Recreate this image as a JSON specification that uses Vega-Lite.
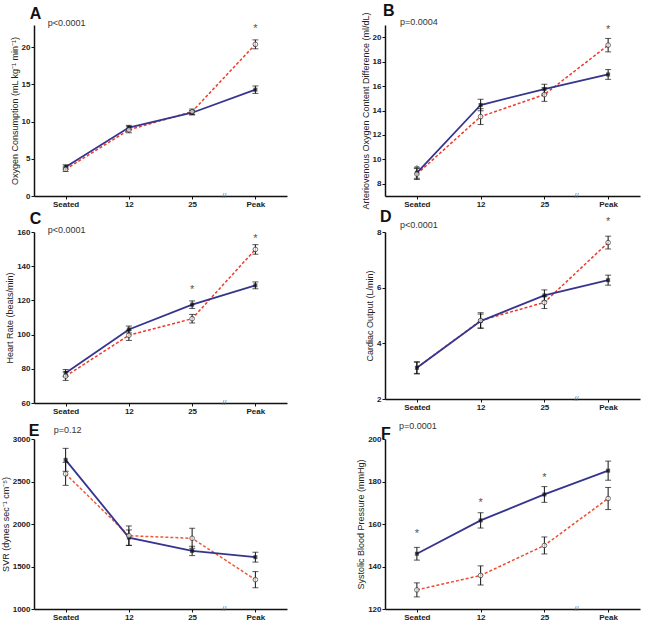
{
"$schema":"https://vega.github.io/schema/vega-lite/v6.json",
"padding":{"left":1,"top":3,"right":5,"bottom":3},
"background":"white",
"bounds":"flush",
"config":{"view":{"stroke":null},"font":"Liberation Sans",
"axis":{"grid":false,"domainColor":"#111","domainWidth":1.5,"tickColor":"#111","tickWidth":1,"tickSize":3,"labelFont":"Liberation Sans","labelFontWeight":"bold","labelFontSize":8,"labelColor":"#222","labelPadding":1,"titleFont":"Liberation Sans","titleFontSize":9,"titleFontWeight":"normal","titleColor":"#222","titlePadding":2},
"axisY":{"format":"d"},
"axisX":{"labelAngle":0,"title":null,"tickSize":3,"labelPadding":1}},
"datasets":{
"main":[
{"panel":"A","stage":"Seated","group":"B","mean":3.9,"lo":3.6,"hi":4.2},
{"panel":"A","stage":"Seated","group":"R","mean":3.6,"lo":3.3,"hi":3.9},
{"panel":"A","stage":"12","group":"B","mean":9.2,"lo":8.9,"hi":9.5},
{"panel":"A","stage":"12","group":"R","mean":8.9,"lo":8.5,"hi":9.3},
{"panel":"A","stage":"25","group":"B","mean":11.2,"lo":10.9,"hi":11.5},
{"panel":"A","stage":"25","group":"R","mean":11.35,"lo":11.0,"hi":11.7},
{"panel":"A","stage":"Peak","group":"B","mean":14.3,"lo":13.8,"hi":14.8},
{"panel":"A","stage":"Peak","group":"R","mean":20.4,"lo":19.8,"hi":21.0},
{"panel":"B","stage":"Seated","group":"B","mean":8.9,"lo":8.45,"hi":9.35},
{"panel":"B","stage":"Seated","group":"R","mean":8.8,"lo":8.35,"hi":9.25},
{"panel":"B","stage":"12","group":"B","mean":14.45,"lo":13.98,"hi":14.92},
{"panel":"B","stage":"12","group":"R","mean":13.5,"lo":12.85,"hi":14.15},
{"panel":"B","stage":"25","group":"B","mean":15.75,"lo":15.35,"hi":16.15},
{"panel":"B","stage":"25","group":"R","mean":15.3,"lo":14.75,"hi":15.85},
{"panel":"B","stage":"Peak","group":"B","mean":16.95,"lo":16.55,"hi":17.35},
{"panel":"B","stage":"Peak","group":"R","mean":19.35,"lo":18.8,"hi":19.9},
{"panel":"C","stage":"Seated","group":"B","mean":77.6,"lo":75.6,"hi":79.6},
{"panel":"C","stage":"Seated","group":"R","mean":75.7,"lo":73.2,"hi":78.2},
{"panel":"C","stage":"12","group":"B","mean":103,"lo":101,"hi":105},
{"panel":"C","stage":"12","group":"R","mean":99.6,"lo":96.6,"hi":102.6},
{"panel":"C","stage":"25","group":"B","mean":117.5,"lo":115.3,"hi":119.7},
{"panel":"C","stage":"25","group":"R","mean":109.3,"lo":106.8,"hi":111.8},
{"panel":"C","stage":"Peak","group":"B","mean":128.8,"lo":126.8,"hi":130.8},
{"panel":"C","stage":"Peak","group":"R","mean":149.8,"lo":147,"hi":152.6},
{"panel":"D","stage":"Seated","group":"B","mean":3.12,"lo":2.9,"hi":3.34},
{"panel":"D","stage":"Seated","group":"R","mean":3.12,"lo":2.92,"hi":3.32},
{"panel":"D","stage":"12","group":"B","mean":4.8,"lo":4.55,"hi":5.05},
{"panel":"D","stage":"12","group":"R","mean":4.82,"lo":4.54,"hi":5.1},
{"panel":"D","stage":"25","group":"B","mean":5.72,"lo":5.52,"hi":5.92},
{"panel":"D","stage":"25","group":"R","mean":5.47,"lo":5.25,"hi":5.69},
{"panel":"D","stage":"Peak","group":"B","mean":6.27,"lo":6.09,"hi":6.45},
{"panel":"D","stage":"Peak","group":"R","mean":7.62,"lo":7.39,"hi":7.85},
{"panel":"E","stage":"Seated","group":"B","mean":2755,"lo":2620,"hi":2890},
{"panel":"E","stage":"Seated","group":"R","mean":2590,"lo":2455,"hi":2725},
{"panel":"E","stage":"12","group":"B","mean":1840,"lo":1750,"hi":1930},
{"panel":"E","stage":"12","group":"R","mean":1862,"lo":1747,"hi":1977},
{"panel":"E","stage":"25","group":"B","mean":1683,"lo":1628,"hi":1738},
{"panel":"E","stage":"25","group":"R","mean":1832,"lo":1714,"hi":1950},
{"panel":"E","stage":"Peak","group":"B","mean":1610,"lo":1552,"hi":1668},
{"panel":"E","stage":"Peak","group":"R","mean":1345,"lo":1250,"hi":1440},
{"panel":"F","stage":"Seated","group":"B","mean":146,"lo":143,"hi":149},
{"panel":"F","stage":"Seated","group":"R","mean":129,"lo":125.7,"hi":132.3},
{"panel":"F","stage":"12","group":"B","mean":161.7,"lo":158.1,"hi":165.3},
{"panel":"F","stage":"12","group":"R","mean":135.8,"lo":131.3,"hi":140.3},
{"panel":"F","stage":"25","group":"B","mean":173.9,"lo":170.2,"hi":177.6},
{"panel":"F","stage":"25","group":"R","mean":149.9,"lo":145.9,"hi":153.9},
{"panel":"F","stage":"Peak","group":"B","mean":185.1,"lo":180.6,"hi":189.6},
{"panel":"F","stage":"Peak","group":"R","mean":172,"lo":166.8,"hi":177.2}
],
"notes":[
{"panel":"A","kind":"letter","stage":"Seated","y":23,"label":"A"},
{"panel":"A","kind":"p","stage":"Seated","y":23,"label":"p<0.0001"},
{"panel":"A","kind":"star","stage":"Peak","y":22.8,"label":"*"},
{"panel":"A","kind":"brk","stage":"25","y":0,"label":"//"},
{"panel":"B","kind":"letter","stage":"Seated","y":21,"label":"B"},
{"panel":"B","kind":"p","stage":"Seated","y":21,"label":"p=0.0004"},
{"panel":"B","kind":"star","stage":"Seated","y":9.35,"label":"*"},
{"panel":"B","kind":"star","stage":"Peak","y":20.8,"label":"*"},
{"panel":"B","kind":"brk","stage":"25","y":7,"label":"//"},
{"panel":"C","kind":"letter","stage":"Seated","y":160,"label":"C"},
{"panel":"C","kind":"p","stage":"Seated","y":160,"label":"p<0.0001"},
{"panel":"C","kind":"star","stage":"25","y":127.6,"label":"*"},
{"panel":"C","kind":"star","stage":"Peak","y":157.5,"label":"*"},
{"panel":"C","kind":"brk","stage":"25","y":60,"label":"//"},
{"panel":"D","kind":"letter","stage":"Seated","y":8,"label":"D"},
{"panel":"D","kind":"p","stage":"Seated","y":8,"label":"p<0.0001"},
{"panel":"D","kind":"star","stage":"Peak","y":8.48,"label":"*"},
{"panel":"D","kind":"brk","stage":"25","y":2,"label":"//"},
{"panel":"E","kind":"letter","stage":"Seated","y":3000,"label":"E"},
{"panel":"E","kind":"p","stage":"Seated","y":3000,"label":"p=0.12"},
{"panel":"E","kind":"brk","stage":"25","y":1000,"label":"//"},
{"panel":"F","kind":"letter","stage":"Seated","y":200,"label":"F"},
{"panel":"F","kind":"p","stage":"Seated","y":200,"label":"p=0.0001"},
{"panel":"F","kind":"star","stage":"Seated","y":156.7,"label":"*"},
{"panel":"F","kind":"star","stage":"12","y":171.2,"label":"*"},
{"panel":"F","kind":"star","stage":"25","y":183,"label":"*"},
{"panel":"F","kind":"brk","stage":"25","y":120,"label":"//"}
]},
"columns":2,
"spacing":{"row":36,"column":98},
"concat":[
{"width":253,"height":171,
"encoding":{"x":{"field":"stage","type":"ordinal","sort":["Seated","12","25","Peak"],"scale":{"type":"point","padding":0.5}},
"y":{"field":"mean","type":"quantitative","scale":{"domain":[0,23]},"axis":{"title":"Oxygen Consumption (mL kg⁻¹ min⁻¹)","values":[0,5,10,15,20]}}},
"layer":[
{"data":{"name":"main"},"transform":[{"filter":"datum.panel==='A' && datum.group==='R'"}],"mark":{"type":"line","color":"#ee3a2a","strokeDash":[3,2],"strokeWidth":1.5}},
{"data":{"name":"main"},"transform":[{"filter":"datum.panel==='A' && datum.group==='B'"}],"mark":{"type":"line","color":"#35358f","strokeWidth":1.8}},
{"data":{"name":"main"},"transform":[{"filter":"datum.panel==='A'"}],"mark":{"type":"errorbar","ticks":{"size":6},"color":"#111","thickness":1},"encoding":{"y":{"field":"lo","type":"quantitative"},"y2":{"field":"hi"}}},
{"data":{"name":"main"},"transform":[{"filter":"datum.panel==='A' && datum.group==='B'"}],"mark":{"type":"point","shape":"square","filled":true,"color":"#111","size":16}},
{"data":{"name":"main"},"transform":[{"filter":"datum.panel==='A' && datum.group==='R'"}],"mark":{"type":"point","shape":"circle","filled":true,"fill":"white","stroke":"#333","strokeWidth":1,"size":22}},
{"data":{"name":"notes"},"transform":[{"filter":"datum.panel==='A' && datum.kind==='star'"}],"mark":{"type":"text","fontSize":11,"color":"#555","baseline":"middle","dy":3},"encoding":{"y":{"field":"y","type":"quantitative"},"text":{"field":"label"}}},
{"data":{"name":"notes"},"transform":[{"filter":"datum.panel==='A' && datum.kind==='p'"}],"mark":{"type":"text","fontSize":9,"color":"#333","align":"left","baseline":"middle","dx":-18,"dy":-2},"encoding":{"y":{"field":"y","type":"quantitative"},"text":{"field":"label"}}},
{"data":{"name":"notes"},"transform":[{"filter":"datum.panel==='A' && datum.kind==='letter'"}],"mark":{"type":"text","fontSize":16,"fontWeight":"bold","color":"#111","align":"left","baseline":"alphabetic","dx":-36,"dy":-6},"encoding":{"y":{"field":"y","type":"quantitative"},"text":{"field":"label"}}},
{"data":{"name":"notes"},"transform":[{"filter":"datum.panel==='A' && datum.kind==='brk'"}],"mark":{"type":"text","fontSize":8,"color":"#777","baseline":"middle","dx":32},"encoding":{"y":{"field":"y","type":"quantitative"},"text":{"field":"label"}}}
]},
{"width":255,"height":171,
"encoding":{"x":{"field":"stage","type":"ordinal","sort":["Seated","12","25","Peak"],"scale":{"type":"point","padding":0.5}},
"y":{"field":"mean","type":"quantitative","scale":{"domain":[7,21]},"axis":{"title":"Arteriovenous Oxygen Content Difference (ml/dL)","values":[8,10,12,14,16,18,20]}}},
"layer":[
{"data":{"name":"main"},"transform":[{"filter":"datum.panel==='B' && datum.group==='R'"}],"mark":{"type":"line","color":"#ee3a2a","strokeDash":[3,2],"strokeWidth":1.5}},
{"data":{"name":"main"},"transform":[{"filter":"datum.panel==='B' && datum.group==='B'"}],"mark":{"type":"line","color":"#35358f","strokeWidth":1.8}},
{"data":{"name":"main"},"transform":[{"filter":"datum.panel==='B'"}],"mark":{"type":"errorbar","ticks":{"size":6},"color":"#111","thickness":1},"encoding":{"y":{"field":"lo","type":"quantitative"},"y2":{"field":"hi"}}},
{"data":{"name":"main"},"transform":[{"filter":"datum.panel==='B' && datum.group==='B'"}],"mark":{"type":"point","shape":"square","filled":true,"color":"#111","size":16}},
{"data":{"name":"main"},"transform":[{"filter":"datum.panel==='B' && datum.group==='R'"}],"mark":{"type":"point","shape":"circle","filled":true,"fill":"white","stroke":"#333","strokeWidth":1,"size":22}},
{"data":{"name":"notes"},"transform":[{"filter":"datum.panel==='B' && datum.kind==='star'"}],"mark":{"type":"text","fontSize":11,"color":"#555","baseline":"middle","dy":3},"encoding":{"y":{"field":"y","type":"quantitative"},"text":{"field":"label"}}},
{"data":{"name":"notes"},"transform":[{"filter":"datum.panel==='B' && datum.kind==='p'"}],"mark":{"type":"text","fontSize":9,"color":"#333","align":"left","baseline":"middle","dx":-17,"dy":-3},"encoding":{"y":{"field":"y","type":"quantitative"},"text":{"field":"label"}}},
{"data":{"name":"notes"},"transform":[{"filter":"datum.panel==='B' && datum.kind==='letter'"}],"mark":{"type":"text","fontSize":16,"fontWeight":"bold","color":"#111","align":"left","baseline":"alphabetic","dx":-34,"dy":-9},"encoding":{"y":{"field":"y","type":"quantitative"},"text":{"field":"label"}}},
{"data":{"name":"notes"},"transform":[{"filter":"datum.panel==='B' && datum.kind==='brk'"}],"mark":{"type":"text","fontSize":8,"color":"#777","baseline":"middle","dx":32},"encoding":{"y":{"field":"y","type":"quantitative"},"text":{"field":"label"}}}
]},
{"width":253,"height":171,
"encoding":{"x":{"field":"stage","type":"ordinal","sort":["Seated","12","25","Peak"],"scale":{"type":"point","padding":0.5}},
"y":{"field":"mean","type":"quantitative","scale":{"domain":[60,160]},"axis":{"title":"Heart Rate (beats/min)","values":[60,80,100,120,140,160]}}},
"layer":[
{"data":{"name":"main"},"transform":[{"filter":"datum.panel==='C' && datum.group==='R'"}],"mark":{"type":"line","color":"#ee3a2a","strokeDash":[3,2],"strokeWidth":1.5}},
{"data":{"name":"main"},"transform":[{"filter":"datum.panel==='C' && datum.group==='B'"}],"mark":{"type":"line","color":"#35358f","strokeWidth":1.8}},
{"data":{"name":"main"},"transform":[{"filter":"datum.panel==='C'"}],"mark":{"type":"errorbar","ticks":{"size":6},"color":"#111","thickness":1},"encoding":{"y":{"field":"lo","type":"quantitative"},"y2":{"field":"hi"}}},
{"data":{"name":"main"},"transform":[{"filter":"datum.panel==='C' && datum.group==='B'"}],"mark":{"type":"point","shape":"square","filled":true,"color":"#111","size":16}},
{"data":{"name":"main"},"transform":[{"filter":"datum.panel==='C' && datum.group==='R'"}],"mark":{"type":"point","shape":"circle","filled":true,"fill":"white","stroke":"#333","strokeWidth":1,"size":22}},
{"data":{"name":"notes"},"transform":[{"filter":"datum.panel==='C' && datum.kind==='star'"}],"mark":{"type":"text","fontSize":11,"color":"#555","baseline":"middle","dy":3},"encoding":{"y":{"field":"y","type":"quantitative"},"text":{"field":"label"}}},
{"data":{"name":"notes"},"transform":[{"filter":"datum.panel==='C' && datum.kind==='p'"}],"mark":{"type":"text","fontSize":9,"color":"#333","align":"left","baseline":"middle","dx":-18,"dy":-2},"encoding":{"y":{"field":"y","type":"quantitative"},"text":{"field":"label"}}},
{"data":{"name":"notes"},"transform":[{"filter":"datum.panel==='C' && datum.kind==='letter'"}],"mark":{"type":"text","fontSize":16,"fontWeight":"bold","color":"#111","align":"left","baseline":"alphabetic","dx":-36,"dy":-8},"encoding":{"y":{"field":"y","type":"quantitative"},"text":{"field":"label"}}},
{"data":{"name":"notes"},"transform":[{"filter":"datum.panel==='C' && datum.kind==='brk'"}],"mark":{"type":"text","fontSize":8,"color":"#777","baseline":"middle","dx":32},"encoding":{"y":{"field":"y","type":"quantitative"},"text":{"field":"label"}}}
]},
{"width":255,"height":167,
"encoding":{"x":{"field":"stage","type":"ordinal","sort":["Seated","12","25","Peak"],"scale":{"type":"point","padding":0.5}},
"y":{"field":"mean","type":"quantitative","scale":{"domain":[2,8]},"axis":{"title":"Cardiac Output (L/min)","values":[2,4,6,8]}}},
"layer":[
{"data":{"name":"main"},"transform":[{"filter":"datum.panel==='D' && datum.group==='R'"}],"mark":{"type":"line","color":"#ee3a2a","strokeDash":[3,2],"strokeWidth":1.5}},
{"data":{"name":"main"},"transform":[{"filter":"datum.panel==='D' && datum.group==='B'"}],"mark":{"type":"line","color":"#35358f","strokeWidth":1.8}},
{"data":{"name":"main"},"transform":[{"filter":"datum.panel==='D'"}],"mark":{"type":"errorbar","ticks":{"size":6},"color":"#111","thickness":1},"encoding":{"y":{"field":"lo","type":"quantitative"},"y2":{"field":"hi"}}},
{"data":{"name":"main"},"transform":[{"filter":"datum.panel==='D' && datum.group==='B'"}],"mark":{"type":"point","shape":"square","filled":true,"color":"#111","size":16}},
{"data":{"name":"main"},"transform":[{"filter":"datum.panel==='D' && datum.group==='R' && datum.stage!=='Seated'"}],"mark":{"type":"point","shape":"circle","filled":true,"fill":"white","stroke":"#333","strokeWidth":1,"size":22}},
{"data":{"name":"notes"},"transform":[{"filter":"datum.panel==='D' && datum.kind==='star'"}],"mark":{"type":"text","fontSize":11,"color":"#555","baseline":"middle","dy":3},"encoding":{"y":{"field":"y","type":"quantitative"},"text":{"field":"label"}}},
{"data":{"name":"notes"},"transform":[{"filter":"datum.panel==='D' && datum.kind==='p'"}],"mark":{"type":"text","fontSize":9,"color":"#333","align":"left","baseline":"middle","dx":-17,"dy":-7},"encoding":{"y":{"field":"y","type":"quantitative"},"text":{"field":"label"}}},
{"data":{"name":"notes"},"transform":[{"filter":"datum.panel==='D' && datum.kind==='letter'"}],"mark":{"type":"text","fontSize":16,"fontWeight":"bold","color":"#111","align":"left","baseline":"alphabetic","dx":-37,"dy":-10},"encoding":{"y":{"field":"y","type":"quantitative"},"text":{"field":"label"}}},
{"data":{"name":"notes"},"transform":[{"filter":"datum.panel==='D' && datum.kind==='brk'"}],"mark":{"type":"text","fontSize":8,"color":"#777","baseline":"middle","dx":32},"encoding":{"y":{"field":"y","type":"quantitative"},"text":{"field":"label"}}}
]},
{"width":253,"height":170,
"encoding":{"x":{"field":"stage","type":"ordinal","sort":["Seated","12","25","Peak"],"scale":{"type":"point","padding":0.5}},
"y":{"field":"mean","type":"quantitative","scale":{"domain":[1000,3000]},"axis":{"title":"SVR (dynes sec⁻¹ cm⁻⁵)","values":[1000,1500,2000,2500,3000]}}},
"layer":[
{"data":{"name":"main"},"transform":[{"filter":"datum.panel==='E' && datum.group==='R'"}],"mark":{"type":"line","color":"#ee5a35","strokeDash":[3,2],"strokeWidth":1.5}},
{"data":{"name":"main"},"transform":[{"filter":"datum.panel==='E' && datum.group==='B'"}],"mark":{"type":"line","color":"#35358f","strokeWidth":1.8}},
{"data":{"name":"main"},"transform":[{"filter":"datum.panel==='E'"}],"mark":{"type":"errorbar","ticks":{"size":6},"color":"#111","thickness":1},"encoding":{"y":{"field":"lo","type":"quantitative"},"y2":{"field":"hi"}}},
{"data":{"name":"main"},"transform":[{"filter":"datum.panel==='E' && datum.group==='B'"}],"mark":{"type":"point","shape":"square","filled":true,"color":"#111","size":16}},
{"data":{"name":"main"},"transform":[{"filter":"datum.panel==='E' && datum.group==='R'"}],"mark":{"type":"point","shape":"circle","filled":true,"fill":"white","stroke":"#333","strokeWidth":1,"size":22}},
{"data":{"name":"notes"},"transform":[{"filter":"datum.panel==='E' && datum.kind==='p'"}],"mark":{"type":"text","fontSize":9,"color":"#333","align":"left","baseline":"middle","dx":-12,"dy":-9},"encoding":{"y":{"field":"y","type":"quantitative"},"text":{"field":"label"}}},
{"data":{"name":"notes"},"transform":[{"filter":"datum.panel==='E' && datum.kind==='letter'"}],"mark":{"type":"text","fontSize":16,"fontWeight":"bold","color":"#111","align":"left","baseline":"alphabetic","dx":-37,"dy":-3},"encoding":{"y":{"field":"y","type":"quantitative"},"text":{"field":"label"}}},
{"data":{"name":"notes"},"transform":[{"filter":"datum.panel==='E' && datum.kind==='brk'"}],"mark":{"type":"text","fontSize":8,"color":"#777","baseline":"middle","dx":32},"encoding":{"y":{"field":"y","type":"quantitative"},"text":{"field":"label"}}}
]},
{"width":255,"height":170,
"encoding":{"x":{"field":"stage","type":"ordinal","sort":["Seated","12","25","Peak"],"scale":{"type":"point","padding":0.5}},
"y":{"field":"mean","type":"quantitative","scale":{"domain":[120,200]},"axis":{"title":"Systolic Blood Pressure (mmHg)","values":[120,140,160,180,200]}}},
"layer":[
{"data":{"name":"main"},"transform":[{"filter":"datum.panel==='F' && datum.group==='R'"}],"mark":{"type":"line","color":"#ee4a30","strokeDash":[3,2],"strokeWidth":1.5}},
{"data":{"name":"main"},"transform":[{"filter":"datum.panel==='F' && datum.group==='B'"}],"mark":{"type":"line","color":"#35358f","strokeWidth":1.8}},
{"data":{"name":"main"},"transform":[{"filter":"datum.panel==='F'"}],"mark":{"type":"errorbar","ticks":{"size":6},"color":"#111","thickness":1},"encoding":{"y":{"field":"lo","type":"quantitative"},"y2":{"field":"hi"}}},
{"data":{"name":"main"},"transform":[{"filter":"datum.panel==='F' && datum.group==='B'"}],"mark":{"type":"point","shape":"square","filled":true,"color":"#111","size":16}},
{"data":{"name":"main"},"transform":[{"filter":"datum.panel==='F' && datum.group==='R'"}],"mark":{"type":"point","shape":"circle","filled":true,"fill":"white","stroke":"#333","strokeWidth":1,"size":22}},
{"data":{"name":"notes"},"transform":[{"filter":"datum.panel==='F' && datum.kind==='star'"}],"mark":{"type":"text","fontSize":11,"color":"#555","baseline":"middle","dy":3},"encoding":{"y":{"field":"y","type":"quantitative"},"text":{"field":"label"}}},
{"data":{"name":"notes"},"transform":[{"filter":"datum.panel==='F' && datum.kind==='p'"}],"mark":{"type":"text","fontSize":9,"color":"#333","align":"left","baseline":"middle","dx":-18,"dy":-13},"encoding":{"y":{"field":"y","type":"quantitative"},"text":{"field":"label"}}},
{"data":{"name":"notes"},"transform":[{"filter":"datum.panel==='F' && datum.kind==='letter'"}],"mark":{"type":"text","fontSize":16,"fontWeight":"bold","color":"#111","align":"left","baseline":"alphabetic","dx":-36,"dy":0},"encoding":{"y":{"field":"y","type":"quantitative"},"text":{"field":"label"}}},
{"data":{"name":"notes"},"transform":[{"filter":"datum.panel==='F' && datum.kind==='brk'"}],"mark":{"type":"text","fontSize":8,"color":"#777","baseline":"middle","dx":32},"encoding":{"y":{"field":"y","type":"quantitative"},"text":{"field":"label"}}}
]}
]
}
